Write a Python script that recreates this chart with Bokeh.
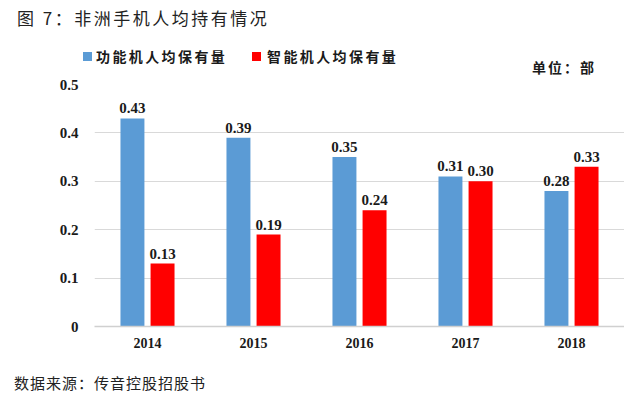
from bokeh.plotting import figure
from bokeh.models import (ColumnDataSource, FactorRange, Range1d, FixedTicker,
                          CustomJSTickFormatter, Div)
from bokeh.layouts import column
from bokeh.transform import dodge
from bokeh.core.properties import value
from bokeh.embed import file_html
from bokeh.resources import INLINE

years = ["2014", "2015", "2016", "2017", "2018"]
feature_phone = [0.43, 0.39, 0.35, 0.31, 0.28]
smart_phone = [0.13, 0.19, 0.24, 0.30, 0.33]
y_ticks = [0, 0.1, 0.2, 0.3, 0.4, 0.5]
series_names = ["功能机人均保有量", "智能机人均保有量"]
title_text = "图 7：非洲手机人均持有情况"
unit_text = "单位：部"
source_text = "数据来源：传音控股招股书"

BLUE = "#5B9BD5"
RED = "#FF0000"
SERIF = "Liberation Serif"
CJK = "'Noto Sans CJK SC'"

W = 624
TOP_H = 74
FIG_H = 284
BOT_H = 40

src = ColumnDataSource(dict(
    year=years,
    fp=feature_phone,
    sp=smart_phone,
    fp_lbl=[f"{v:.2f}" for v in feature_phone],
    sp_lbl=[f"{v:.2f}" for v in smart_phone],
))

p = figure(width=W, height=FIG_H, x_range=FactorRange(*years), y_range=Range1d(0, 0.5),
           output_backend="svg", toolbar_location=None, title=None,
           min_border_left=94, min_border_right=0, min_border_top=10, min_border_bottom=32)
p.outline_line_color = None
p.background_fill_color = "white"
p.border_fill_color = "white"

off = 0.142
bw = 0.226
p.vbar(x=dodge("year", -off, range=p.x_range), top="fp", width=bw, source=src,
       fill_color=BLUE, line_color=None)
p.vbar(x=dodge("year", off, range=p.x_range), top="sp", width=bw, source=src,
       fill_color=RED, line_color=None)

for col, lbl, dx in (("fp", "fp_lbl", -off), ("sp", "sp_lbl", off)):
    p.text(x=dodge("year", dx, range=p.x_range), y=col, text=lbl, source=src,
           text_align="center", text_baseline="bottom", y_offset=-5,
           text_font=value(SERIF), text_font_style="bold", text_font_size="15px",
           text_color="#1a1a1a")

# axes
p.yaxis.ticker = FixedTicker(ticks=y_ticks)
p.yaxis.formatter = CustomJSTickFormatter(code="return tick == 0 ? '0' : tick.toFixed(1);")
p.yaxis.axis_line_color = None
p.yaxis.major_tick_line_color = None
p.yaxis.minor_tick_line_color = None
p.yaxis.major_tick_out = 0
p.yaxis.major_tick_in = 0
p.yaxis.major_label_standoff = 16
p.yaxis.major_label_text_font = SERIF
p.yaxis.major_label_text_font_style = "bold"
p.yaxis.major_label_text_font_size = "15px"
p.yaxis.major_label_text_color = "#1a1a1a"

p.xaxis.axis_line_color = "#D0D0D0"
p.xaxis.axis_line_width = 1.5
p.xaxis.major_tick_line_color = None
p.xaxis.major_tick_out = 0
p.xaxis.major_tick_in = 0
p.xaxis.major_label_standoff = 11
p.xaxis.major_label_text_font = SERIF
p.xaxis.major_label_text_font_style = "bold"
p.xaxis.major_label_text_font_size = "14px"
p.xaxis.major_label_text_color = "#1a1a1a"

p.xgrid.grid_line_color = None
p.ygrid.ticker = FixedTicker(ticks=y_ticks)
p.ygrid.grid_line_color = "#D9D9D9"
p.ygrid.grid_line_width = 1.2


def span(left, cy, text, size, weight="normal", spacing=0, color="#1a1a1a"):
    top = cy - size / 2
    return (f'<span style="position:absolute;left:{left}px;top:{top}px;'
            f'font-family:{CJK};font-size:{size}px;line-height:{size}px;'
            f'font-weight:{weight};letter-spacing:{spacing}px;color:{color};'
            f'white-space:nowrap;">{text}</span>')


def square(left, top, color):
    return (f'<span style="position:absolute;left:{left}px;top:{top}px;'
            f'width:9px;height:9px;background:{color};"></span>')


top_html = (f'<div style="position:relative;width:{W}px;height:{TOP_H}px;">'
            + span(17, 17, title_text, 17, spacing=2.5, color="#222222")
            + square(83, 52, BLUE)
            + span(96, 56, series_names[0], 14, weight="bold", spacing=2.4)
            + square(252, 52, RED)
            + span(267, 56, series_names[1], 14, weight="bold", spacing=2.4)
            + span(532, 67, unit_text, 14, weight="bold", spacing=2)
            + '</div>')

bot_html = (f'<div style="position:relative;width:{W}px;height:{BOT_H}px;">'
            + span(14, 24, source_text, 15, spacing=1, color="#222222")
            + '</div>')

top_div = Div(text=top_html, width=W, height=TOP_H, margin=(0, 0, 0, 0))
bot_div = Div(text=bot_html, width=W, height=BOT_H, margin=(0, 0, 0, 0))

layout = column(top_div, p, bot_div, spacing=0)

open("out.html", "w").write(file_html(layout, INLINE))
